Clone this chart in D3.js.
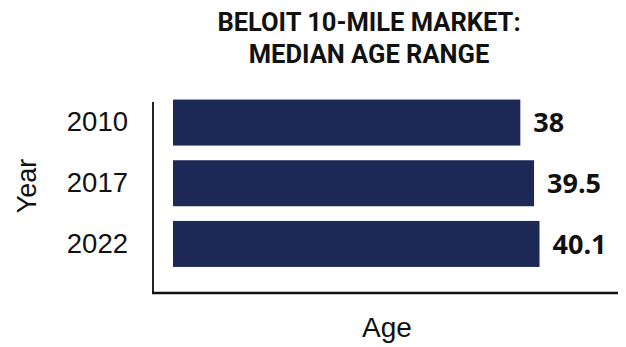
<!DOCTYPE html>
<html>
<head>
<meta charset="utf-8">
<script src="https://cdn.jsdelivr.net/npm/d3@7"></script>
<style>
  html, body { margin: 0; padding: 0; background: #ffffff; }
  svg { display: block; }
</style>
</head>
<body>
<svg id="chart" width="626" height="347"></svg>
<script>
// Median age by year, Beloit 10-mile market
const years = ["2010", "2017", "2022"];
const medianAge = [38, 39.5, 40.1];
const valueLabels = ["38", "39.5", "40.1"];
const titleLines = ["BELOIT 10-MILE MARKET:", "MEDIAN AGE RANGE"];

const svg = d3.select("#chart");
const barColor = "#1c2957";

// Plot frame
const frame = { left: 153, right: 618, top: 102, bottom: 293 };

const x = d3.scaleLinear().domain([0, 50]).range([173, 630]);
const y = d3.scaleBand()
  .domain(years)
  .range([93.5, 273])
  .paddingInner(0.242)
  .paddingOuter(0.1);

// Title
svg.append("g")
  .selectAll("text")
  .data(titleLines)
  .join("text")
  .attr("x", 369)
  .attr("y", (d, i) => 31 + i * 32)
  .attr("text-anchor", "middle")
  .attr("font-family", "Roboto, 'DejaVu Sans', sans-serif")
  .attr("font-weight", 700)
  .attr("font-size", 25.5)
  .attr("fill", "#111")
  .text(d => d);

// Bars
const rows = years.map((yr, i) => ({ year: yr, value: medianAge[i], label: valueLabels[i] }));

svg.append("g")
  .selectAll("rect")
  .data(rows)
  .join("rect")
  .attr("x", x(0))
  .attr("y", d => y(d.year))
  .attr("width", d => x(d.value) - x(0))
  .attr("height", y.bandwidth())
  .attr("fill", barColor);

// Value labels
svg.append("g")
  .selectAll("text")
  .data(rows)
  .join("text")
  .attr("x", d => x(d.value) + 13)
  .attr("y", d => y(d.year) + y.bandwidth() / 2)
  .attr("dy", "0.36em")
  .attr("font-family", "'Open Sans', sans-serif")
  .attr("font-weight", 700)
  .attr("font-size", 27)
  .attr("fill", "#111")
  .text(d => d.label);

// Year axis (left)
const yAxis = d3.axisLeft(y).tickSize(0).tickPadding(25);
const yg = svg.append("g")
  .attr("transform", `translate(${frame.left},0)`)
  .call(yAxis);
yg.select(".domain").remove();
yg.selectAll("text")
  .attr("font-family", "'Liberation Sans', Arial, sans-serif")
  .attr("font-size", 27.5)
  .attr("fill", "#111");

// Axis lines
svg.append("line")
  .attr("x1", frame.left).attr("x2", frame.left)
  .attr("y1", frame.top).attr("y2", frame.bottom)
  .attr("stroke", "#222").attr("stroke-width", 2);
svg.append("line")
  .attr("x1", frame.left - 1).attr("x2", frame.right)
  .attr("y1", frame.bottom).attr("y2", frame.bottom)
  .attr("stroke", "#111").attr("stroke-width", 2.5);

// Axis titles
svg.append("text")
  .attr("transform", `translate(36,186) rotate(-90)`)
  .attr("text-anchor", "middle")
  .attr("font-family", "'Liberation Sans', Arial, sans-serif")
  .attr("font-size", 27)
  .attr("fill", "#111")
  .text("Year");

svg.append("text")
  .attr("x", 387)
  .attr("y", 337)
  .attr("text-anchor", "middle")
  .attr("font-family", "'Liberation Sans', Arial, sans-serif")
  .attr("font-size", 28)
  .attr("fill", "#111")
  .text("Age");
</script>
</body>
</html>
